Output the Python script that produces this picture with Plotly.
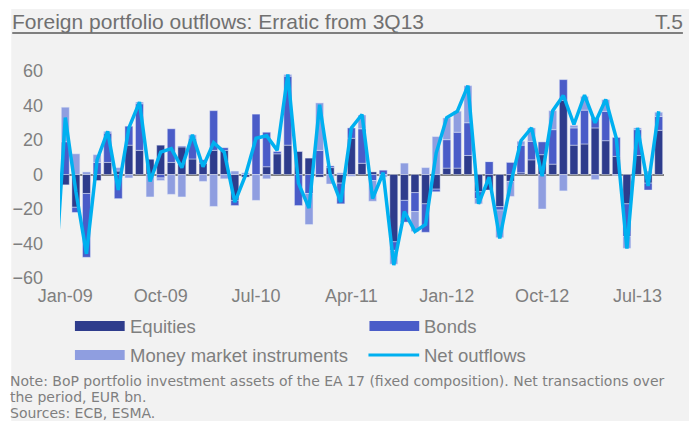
import plotly.graph_objects as go
import pandas as pd

# ---- data (EUR bn, monthly, Jan-09 .. Sep-13) ----
months = pd.date_range("2009-01-01", "2013-09-01", freq="MS").strftime("%b-%y").tolist()
equities = [-6, -19, -11, -3.5, 7, 2, 17, 14, 9, 17, 7, 16,
            9, 6.5, 14, 14, -15, -1.5, 0, 4.5, 12, 17, 13.5, 9.5,
            -1.5, 4, -5, 21, 6.5, 1.5, 0, -39, -15, -10.5, -17, -8.5,
            3.7, 3.7, 11, -10, -9, -18.6, -4, 1, 8.5, 11.5, 6, 43,
            17, 17.7, 27, 19.6, 10.5, -17, 11, -5, 25.6]
bonds = [19, -3, -37, 7, 17, -14, 11, 27, 0, -2, 19.5, 0.5,
         12, 2, 23, 1.5, -3, 0, 35, 20, 1.5, 40, -18, -11,
         14, 1, -12, 6, 20, -3.5, 2.5, -5, -12.6, -11, -16.5, -1.5,
         16.5, 20.8, 19, -4, 7.5, -2, 7, 16, 10.7, 7.4, 20, 12,
         10, 19.6, 6, 17, 11, -19, 15, -4, 8]
money_market = [20, 12, 1.5, 4.5, 1, 2, -2, 1, -13, -1.5, -11.5, -13,
                2, -4, -18.5, -2.5, 2, 1, -15, -2.5, 0, 1, 0, -18,
                27.5, -5.5, 1, -1, 8, -12, -1.5, -8, 6.6, -11.6, 4, 22,
                12.6, 12.2, 21.5, -3, 0, -16, -8.7, 2.3, 7.8, -20, 11, -9.5,
                1.5, 8, -3, 6.8, -0.5, -6.8, 1, 2, 2.5]
line_months = ["Dec-08"] + months
net_outflows = [-65, 33, -10, -46, 8.5, 25, -9, 27, 42, -4, 13, 15, 4,
                23, 4.5, 18.5, 13, -16, -0.5, 21, 22.5, 14, 58, -5, -19.5,
                40.5, 0, -16, 27, 34.8, -14, 1, -52.5, -21.5, -33, -29, 12.4,
                33, 36.7, 51.5, -17, -1.5, -37, -6, 19.6, 27, -1, 37, 45.8,
                29, 46, 30, 43.5, 21, -43, 27, -6.6, 36.7]
x_ticks = ["Jan-09", "Oct-09", "Jul-10", "Apr-11", "Jan-12", "Oct-12", "Jul-13"]
y_ticks = [-60, -40, -20, 0, 20, 40, 60]

C_EQ, C_BO, C_MM, C_NET = "#2E3C8C", "#4A5CC8", "#8F9EE0", "#00B0F0"
GREY_TXT = "#7F7F7F"
FONT = "Liberation Sans, Arial, sans-serif"
NOTE_FONT = "DejaVu Sans, Liberation Sans, sans-serif"

W, H = 689, 421
L, R, T, B = 57, 664, 71, 278


def px(xp):
    return (xp - L) / (R - L)


def py(yp):
    return (B - yp) / (B - T)


fig = go.Figure()
edge = dict(color="rgba(235,238,250,0.55)", width=0.8)
fig.add_trace(go.Bar(x=months, y=equities, name="Equities", marker=dict(color=C_EQ, line=edge)))
fig.add_trace(go.Bar(x=months, y=bonds, name="Bonds", marker=dict(color=C_BO, line=edge)))
fig.add_trace(go.Bar(x=months, y=money_market, name="Money market instruments",
                     marker=dict(color=C_MM, line=edge)))
fig.add_trace(go.Scatter(x=line_months, y=net_outflows, name="Net outflows", mode="lines",
                         line=dict(color=C_NET, width=3.5)))

shapes = [
    dict(type="rect", xref="paper", yref="paper", x0=px(8), x1=px(W + 2), y0=py(9), y1=py(H + 2),
         fillcolor="#F2F2F2", line=dict(width=0), layer="below"),
    dict(type="line", xref="paper", yref="paper", x0=px(9), x1=px(683), y0=py(33), y1=py(33),
         line=dict(color="#7F7F7F", width=2)),
    # legend swatches
    dict(type="rect", xref="paper", yref="paper", x0=px(72), x1=px(122), y0=py(321), y1=py(331),
         fillcolor=C_EQ, line=dict(width=0)),
    dict(type="rect", xref="paper", yref="paper", x0=px(368), x1=px(418), y0=py(321), y1=py(331),
         fillcolor=C_BO, line=dict(width=0)),
    dict(type="rect", xref="paper", yref="paper", x0=px(72), x1=px(122), y0=py(350), y1=py(360),
         fillcolor=C_MM, line=dict(width=0)),
    dict(type="line", xref="paper", yref="paper", x0=px(367), x1=px(418), y0=py(355), y1=py(355),
         line=dict(color=C_NET, width=3)),
]


def ann(text, x, y, size, color=GREY_TXT, xanchor="left", family=FONT):
    return dict(text=text, xref="paper", yref="paper", x=px(x), y=py(y), xanchor=xanchor,
                yanchor="middle", showarrow=False, font=dict(family=family, size=size, color=color))


annotations = [
    ann("Foreign portfolio outflows: Erratic from 3Q13", 7, 21, 21, "#707070"),
    ann("T.5", 685, 21, 21, "#707070", xanchor="right"),
    ann("Equities", 125, 326, 18.5),
    ann("Bonds", 421, 326, 18.5),
    ann("Money market instruments", 125, 355, 18.5),
    ann("Net outflows", 421, 355, 18.5),
    ann("Note: BoP portfolio investment assets of the EA 17 (fixed composition). Net transactions over",
        5, 381, 14, family=NOTE_FONT),
    ann("the period, EUR bn.", 5, 397, 14, family=NOTE_FONT),
    ann("Sources: ECB, ESMA.", 5, 413, 14, family=NOTE_FONT),
]

fig.update_layout(
    width=W, height=H,
    margin=dict(l=L, r=W - R, t=T, b=H - B, pad=0),
    paper_bgcolor="white", plot_bgcolor="rgba(0,0,0,0)",
    barmode="relative", bargap=0.25,
    showlegend=False,
    font=dict(family=FONT, color=GREY_TXT),
    shapes=shapes, annotations=annotations,
)
fig.update_xaxes(type="category", categoryorder="array", categoryarray=line_months,
                 range=[0.5, len(line_months) - 0.5], tickmode="array", tickvals=x_ticks,
                 ticktext=x_ticks, showgrid=False, showline=False, ticks="",
                 tickfont=dict(size=18, color=GREY_TXT), ticklabelstandoff=5, tickangle=0)
fig.update_yaxes(range=[-60, 60], tickmode="array", tickvals=y_ticks, showgrid=False,
                 zeroline=True, zerolinecolor="#808080", zerolinewidth=2, showline=False,
                 ticks="", tickfont=dict(size=18, color=GREY_TXT), ticklabelstandoff=16)

fig.write_html("out.html")
